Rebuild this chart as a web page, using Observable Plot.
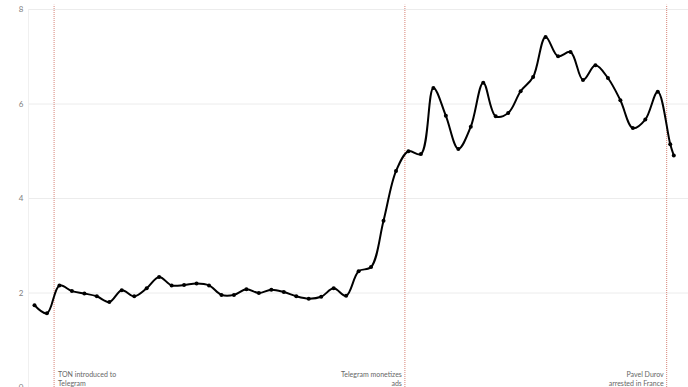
<!DOCTYPE html>
<html>
<head>
<meta charset="utf-8">
<script src="https://cdn.jsdelivr.net/npm/d3@7"></script>
<script src="https://cdn.jsdelivr.net/npm/@observablehq/plot@0.6"></script>
<style>
  html, body { margin: 0; padding: 0; background: #fff; }
  #chart svg { display: block; font-family: Lato, "Open Sans", sans-serif; }
</style>
</head>
<body>
<div id="chart"></div>
<script>
const dates = [
  "2023-09-04","2023-09-11","2023-09-18","2023-09-25",
  "2023-10-02","2023-10-09","2023-10-16","2023-10-23","2023-10-30",
  "2023-11-06","2023-11-13","2023-11-20","2023-11-27",
  "2023-12-04","2023-12-11","2023-12-18","2023-12-25",
  "2024-01-01","2024-01-08","2024-01-15","2024-01-22","2024-01-29",
  "2024-02-05","2024-02-12","2024-02-19","2024-02-26",
  "2024-03-04","2024-03-11","2024-03-18","2024-03-25",
  "2024-04-01","2024-04-08","2024-04-15","2024-04-22","2024-04-29",
  "2024-05-06","2024-05-13","2024-05-20","2024-05-27",
  "2024-06-03","2024-06-10","2024-06-17","2024-06-24",
  "2024-07-01","2024-07-08","2024-07-15","2024-07-22","2024-07-29",
  "2024-08-05","2024-08-12","2024-08-19","2024-08-26","2024-08-28"
];
const prices = [
  1.74, 1.57, 2.16, 2.04,
  1.99, 1.93, 1.81, 2.06, 1.93,
  2.10, 2.34, 2.16, 2.17,
  2.20, 2.16, 1.96, 1.96,
  2.08, 2.00, 2.07, 2.02, 1.93,
  1.88, 1.92, 2.10, 1.94,
  2.46, 2.55, 3.53, 4.58,
  5.00, 4.94, 6.34, 5.75, 5.05,
  5.52, 6.45, 5.74, 5.81,
  6.27, 6.57, 7.42, 7.01,
  7.10, 6.51, 6.82, 6.55, 6.08,
  5.49, 5.67, 6.26, 5.15, 4.91
];
const eventDates = ["2023-09-15", "2024-03-30", "2024-08-24"];
const eventLabels = ["TON introduced to\nTelegram", "Telegram monetizes\nads", "Pavel Durov\narrested in France"];
const eventAnchors = ["start", "end", "end"];
const yTicks = [0, 2, 4, 6, 8];

const data = dates.map((d, i) => ({date: new Date(d), price: prices[i]}));
const events = eventDates.map((d, i) => ({date: new Date(d), label: eventLabels[i], anchor: eventAnchors[i]}));

const chart = Plot.plot({
  width: 688,
  height: 387,
  marginLeft: 28,
  marginRight: 0,
  marginTop: 9,
  marginBottom: 0,
  style: {fontFamily: "Lato, 'Open Sans', sans-serif"},
  x: {type: "utc", domain: [new Date(dates[0]), new Date(dates[dates.length - 1])], insetLeft: 6, insetRight: 14.7, axis: null},
  y: {domain: [0, 8], ticks: yTicks, label: null},
  marks: [
    Plot.ruleY(yTicks, {stroke: "#ececec", strokeWidth: 1}),
    Plot.frame({anchor: "left", stroke: "#f0f0f0"}),
    Plot.axisY(yTicks, {tickSize: 0, tickPadding: 5, fontSize: 8, fill: "#808080", label: null}),
    Plot.ruleX(events, {x: "date", y1: 0, y2: 8.09, stroke: "#c85a4a", strokeOpacity: 0.75, strokeWidth: 1, strokeDasharray: "1,1"}),
    Plot.text(events.filter(e => e.anchor === "start"), {x: "date", text: "label", frameAnchor: "bottom", lineAnchor: "bottom", textAnchor: "start", dx: 4, dy: -2, fontSize: 7, fill: "#666", lineHeight: 1.25}),
    Plot.text(events.filter(e => e.anchor === "end"), {x: "date", text: "label", frameAnchor: "bottom", lineAnchor: "bottom", textAnchor: "end", dx: -3, dy: -2, fontSize: 7, fill: "#666", lineHeight: 1.25}),
    Plot.line(data, {x: "date", y: "price", stroke: "#000", strokeWidth: 2, curve: "catmull-rom"}),
    Plot.dot(data, {x: "date", y: "price", r: 2, fill: "#000"})
  ]
});
document.getElementById("chart").appendChild(chart);
</script>
</body>
</html>
